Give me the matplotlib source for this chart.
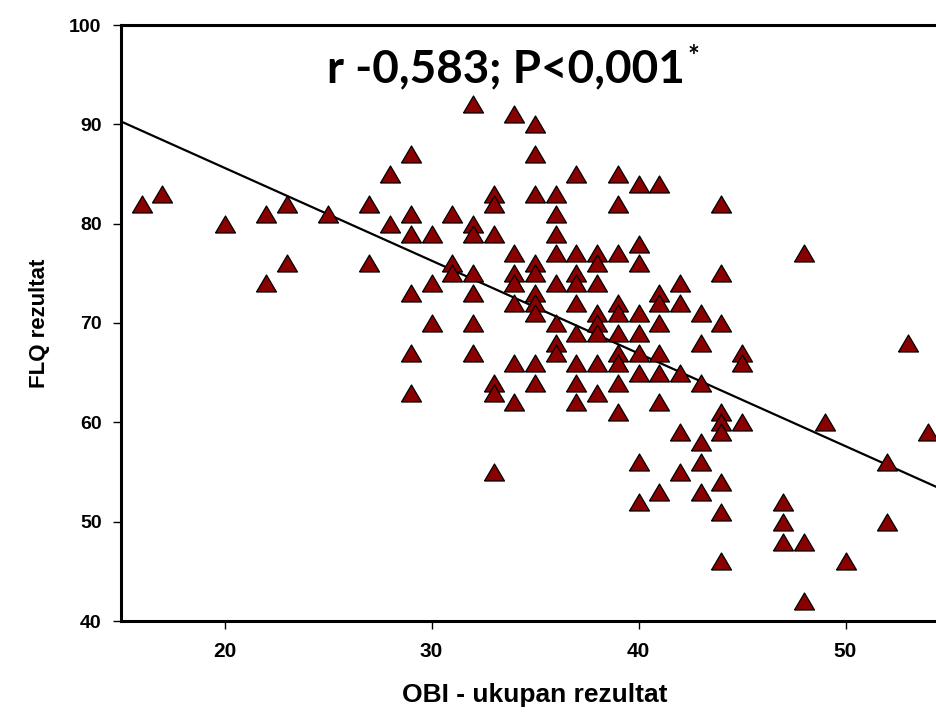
import numpy as np
import matplotlib
matplotlib.use("Agg")
import matplotlib.pyplot as plt
from matplotlib import font_manager

# OBI - ukupan rezultat (x) vs FLQ rezultat (y)
obi = [16, 17, 20, 22, 22, 23, 23, 25, 27, 27, 28, 28, 29, 29, 29, 29, 29, 29,
       30, 30, 30, 31, 31, 31, 32, 32, 32, 32, 32, 32, 32, 33, 33, 33, 33, 33, 33,
       34, 34, 34, 34, 34, 34, 34,
       35, 35, 35, 35, 35, 35, 35, 35, 35, 35,
       36, 36, 36, 36, 36, 36, 36, 36,
       37, 37, 37, 37, 37, 37, 37, 37, 37,
       38, 38, 38, 38, 38, 38, 38, 38,
       39, 39, 39, 39, 39, 39, 39, 39, 39, 39,
       40, 40, 40, 40, 40, 40, 40, 40, 40,
       41, 41, 41, 41, 41, 41, 41, 41,
       42, 42, 42, 42, 42,
       43, 43, 43, 43, 43, 43,
       44, 44, 44, 44, 44, 44, 44, 44, 44,
       45, 45, 45, 47, 47, 47, 48, 48, 48, 49, 50, 52, 52, 53, 54]
flq = [82, 83, 80, 81, 74, 82, 76, 81, 82, 76, 85, 80, 87, 81, 79, 73, 67, 63,
       79, 74, 70, 81, 76, 75, 92, 80, 79, 75, 73, 70, 67, 83, 82, 79, 64, 63, 55,
       91, 77, 75, 74, 72, 66, 62,
       90, 87, 83, 76, 75, 73, 72, 71, 66, 64,
       83, 81, 79, 77, 74, 70, 68, 67,
       85, 77, 75, 74, 72, 69, 66, 64, 62,
       77, 76, 74, 71, 70, 69, 66, 63,
       85, 82, 77, 72, 71, 69, 67, 66, 64, 61,
       84, 78, 76, 71, 69, 67, 65, 56, 52,
       84, 73, 72, 70, 67, 65, 62, 53,
       74, 72, 65, 59, 55,
       71, 68, 64, 58, 56, 53,
       82, 75, 70, 61, 60, 59, 54, 51, 46,
       67, 66, 60, 52, 50, 48, 77, 48, 42, 60, 46, 56, 50, 68, 59]

# regression line
intercept = 104.3
slope = -0.934

names = {f.name for f in font_manager.fontManager.ttflist}
narrow = "Liberation Sans Narrow" if "Liberation Sans Narrow" in names else "Liberation Sans"

fig = plt.figure(figsize=(9.37, 7.18), dpi=100)
ax = fig.add_axes([121/937, 97/718, 828/937, 596/718])
ax.set_xlim(15, 55)
ax.set_ylim(40, 100)

xl = np.array([15, 55])
ax.plot(xl, intercept + slope*xl, color="black", lw=1.6, zorder=2)

tri = [(-1, -0.85), (1, -0.85), (0, 0.85), (-1, -0.85)]
ax.plot(obi, flq, linestyle="none", marker=tri, markersize=14.4,
        markerfacecolor="#880000", markeredgecolor="black", markeredgewidth=0.9,
        zorder=3)

for s in ax.spines.values():
    s.set_linewidth(2.2)

ax.set_xticks([20, 30, 40, 50])
ax.set_yticks([40, 50, 60, 70, 80, 90, 100])
ax.tick_params(direction="out", length=6, width=1)
ax.tick_params(axis="x", pad=9, labelsize=15)
ax.tick_params(axis="y", pad=8, labelsize=14)
for lab in ax.get_xticklabels():
    lab.set_fontweight("bold")
    lab.set_family(narrow)
for lab in ax.get_yticklabels():
    lab.set_fontweight("bold")
    lab.set_family("Liberation Sans")

ax.set_xlabel("OBI - ukupan rezultat", fontsize=19, fontweight="bold",
              family=narrow, labelpad=16)
ax.set_ylabel("FLQ rezultat", fontsize=16, fontweight="bold",
              family="Liberation Sans", labelpad=14)

t = ax.text(24.95, 94.2, "r -0,583; P<0,001", fontsize=33, fontweight="bold",
            family="Lato", va="baseline", ha="left")
fig.canvas.draw()
bb = t.get_window_extent()
inv = ax.transData.inverted()
x1, _ = inv.transform((bb.x1, bb.y1))
_, ya = inv.transform((0, 718 - 44))
ax.text(x1 + 0.15, ya, "*", fontsize=20, fontweight="bold",
        family="Lato", va="top", ha="left")

fig.savefig("out.png", dpi=100)
